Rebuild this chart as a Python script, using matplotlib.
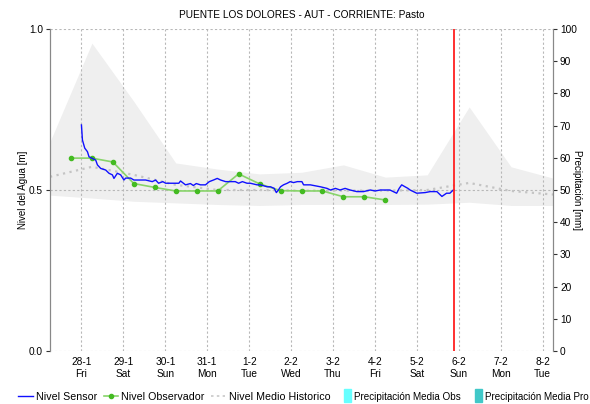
import matplotlib
matplotlib.use("Agg")
import matplotlib.pyplot as plt
from matplotlib.lines import Line2D
from matplotlib.patches import Rectangle
from matplotlib.legend_handler import HandlerPatch

plt.rcParams['font.family'] = ['Liberation Sans', 'DejaVu Sans']

# days counted from 28-1 00:00
day_ticks = [0, 1, 2, 3, 4, 5, 6, 7, 8, 9, 10, 11]
day_labels = ["28-1\nFri", "29-1\nSat", "30-1\nSun", "31-1\nMon", "1-2\nTue", "2-2\nWed",
              "3-2\nThu", "4-2\nFri", "5-2\nSat", "6-2\nSun", "7-2\nMon", "8-2\nTue"]

# historical band (06:00 each day)
hist_t = [-0.75, 0.25, 1.25, 2.25, 3.25, 4.25, 5.25, 6.25, 7.25, 8.25, 9.25, 10.25, 11.25]
hist_max = [0.65, 0.956, 0.775, 0.584, 0.565, 0.55, 0.555, 0.578, 0.54, 0.547, 0.758, 0.572, 0.537]
hist_min = [0.484, 0.475, 0.465, 0.46, 0.455, 0.452, 0.455, 0.455, 0.455, 0.456, 0.462, 0.452, 0.452]
hist_mean = [0.541, 0.572, 0.547, 0.516, 0.5, 0.5, 0.498, 0.498, 0.498, 0.5, 0.522, 0.497, 0.486]

sensor_t = [0.0, 0.024, 0.079, 0.143, 0.181, 0.262, 0.34, 0.381, 0.46, 0.579, 0.657, 0.738,
            0.776, 0.857, 0.936, 1.014, 1.055, 1.174, 1.252, 1.531, 1.69, 1.77, 1.84, 1.94,
            2.01, 2.324, 2.364, 2.483, 2.6, 2.67, 2.74, 2.84, 2.96, 3.05, 3.15, 3.24, 3.32,
            3.44, 3.55, 3.67, 3.75, 3.84, 3.95, 4.03, 4.19, 4.27, 4.43, 4.51, 4.6, 4.65, 4.7,
            4.75, 4.82, 4.91, 4.98, 5.06, 5.15, 5.26, 5.3, 5.46, 5.58, 5.7, 5.86, 5.94, 6.06,
            6.17, 6.29, 6.41, 6.57, 6.73, 6.89, 7.01, 7.13, 7.36, 7.52, 7.58, 7.64, 7.72,
            7.79, 7.84, 8.0, 8.2, 8.32, 8.48, 8.6, 8.71, 8.79, 8.87, 8.89]
sensor_v = [0.702, 0.655, 0.63, 0.619, 0.603, 0.598, 0.593, 0.578, 0.567, 0.562, 0.552, 0.547,
            0.536, 0.552, 0.547, 0.531, 0.537, 0.537, 0.531, 0.531, 0.526, 0.531, 0.521, 0.526,
            0.521, 0.521, 0.528, 0.516, 0.52, 0.514, 0.52, 0.516, 0.516, 0.526, 0.531, 0.536,
            0.531, 0.526, 0.526, 0.526, 0.521, 0.526, 0.521, 0.521, 0.516, 0.516, 0.51, 0.51,
            0.505, 0.492, 0.5, 0.51, 0.516, 0.521, 0.526, 0.523, 0.526, 0.526, 0.516, 0.516,
            0.513, 0.51, 0.505, 0.5, 0.505, 0.5, 0.505, 0.5, 0.495, 0.495, 0.5, 0.497, 0.5,
            0.5, 0.49, 0.505, 0.516, 0.51, 0.505, 0.5, 0.49, 0.492, 0.495, 0.495, 0.48, 0.49,
            0.49, 0.5, 0.5]

obs_t = [-0.25, 0.25, 0.75, 1.25, 1.75, 2.25, 2.75, 3.25, 3.75, 4.25, 4.75, 5.25, 5.75,
         6.25, 6.75, 7.25]
obs_v = [0.599, 0.599, 0.587, 0.52, 0.508, 0.497, 0.497, 0.497, 0.55, 0.519, 0.498, 0.497,
         0.497, 0.479, 0.479, 0.469]

now_t = 8.89


def narrow_box(legend, orig_handle, xdescent, ydescent, width, height, fontsize):
    # thin upright block at the right end of the handle slot
    return Rectangle((-xdescent + width - 5, -ydescent - 2), 5, height + 4)


fig = plt.figure(figsize=(5.9, 4.04), dpi=100)
ax = fig.add_axes([50/590, 1-351/404, 503/590, 322/404])
ax2 = ax.twinx()

ax.fill_between(hist_t, hist_min, hist_max, color='#efefef', lw=0, zorder=1)
ax.plot(hist_t, hist_mean, color='#c4c4c4', lw=1.6, ls=(0, (1, 2)), zorder=2)
ax.plot(sensor_t, sensor_v, color='#1010ff', lw=1.0, zorder=4)
ax.plot(obs_t, obs_v, color='#88d46a', lw=1.2, marker='o', ms=3,
        mfc='#44bb22', mec='#44bb22', zorder=3)
ax.axvline(now_t, color='#ff2020', lw=1.3, zorder=5)

ax.set_xlim(-0.75, 11.25)
ax.set_ylim(0, 1)
ax.set_yticks([0.0, 0.5, 1.0])
ax.set_yticklabels(["0.0", "0.5", "1.0"])
ax.set_xticks(day_ticks)
ax.set_xticklabels(day_labels, fontsize=7.3, linespacing=1.25)
ax.tick_params(axis='x', length=0, pad=4)
ax.tick_params(axis='y', length=3, labelsize=7.3, color='#333333', pad=2)
ax.grid(True, color='#b8b8b8', ls=(0, (2, 2)), lw=0.8)

ax2.set_ylim(0, 100)
ax2.set_yticks(range(0, 101, 10))
ax2.tick_params(axis='y', length=3, labelsize=7.3, color='#333333', pad=2)

for a in (ax, ax2):
    a.spines['top'].set_visible(False)
    a.spines['bottom'].set_visible(False)
    a.spines['left'].set_color('#888888')
    a.spines['right'].set_color('#888888')

ax.set_ylabel("Nivel del Agua [m]", fontsize=7, labelpad=1)
ax2.set_ylabel("Precipitación [mm]", fontsize=7, rotation=270, labelpad=4)
ax.set_title("PUENTE LOS DOLORES - AUT - CORRIENTE: Pasto", fontsize=7.3, pad=8)

handles = [
    Line2D([], [], color='#1010ff', lw=1.0),
    Line2D([], [], color='#88d46a', lw=1.2, marker='o', ms=3, mfc='#44bb22', mec='#44bb22'),
    Line2D([], [], color='#c8c8c8', lw=1.2, ls=(0, (1.5, 2))),
    Rectangle((0, 0), 1, 1, color='#66ffff'),
    Rectangle((0, 0), 1, 1, color='#40c8c8'),
]
labels = ["Nivel Sensor", "Nivel Observador", "Nivel Medio Historico",
          "Precipitación Media Obs", "Precipitación Media Pro"]
leg = fig.legend(handles, labels, loc='lower left', bbox_to_anchor=(0.02, -0.01), ncol=5,
                 frameon=False, fontsize=7.7, handlelength=1.35, handletextpad=0.3,
                 columnspacing=0.6, borderaxespad=0.2,
                 handler_map={Rectangle: HandlerPatch(patch_func=narrow_box)})
for t in leg.get_texts()[3:]:
    t.set_fontsize(7.1)

fig.savefig("out.png", dpi=100)
